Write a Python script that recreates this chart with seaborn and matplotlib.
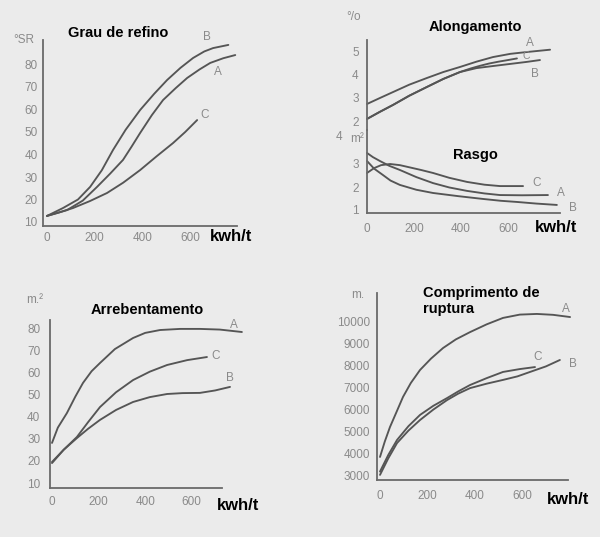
import matplotlib
matplotlib.use("Agg")
import matplotlib.pyplot as plt
import pandas as pd
import seaborn as sns

# ---------------- data ----------------
# Grau de refino (°SR) vs kwh/t
refino_A_x = [0, 84, 150, 210, 265, 319, 355, 391, 440, 487, 540, 588, 640, 685, 740, 790]
refino_A_y = [12.7, 15.3, 19.5, 25.6, 31.5, 37.6, 43.5, 49.6, 57.5, 64.2, 69.5, 74.0, 77.8, 80.7, 82.8, 84.2]
refino_B_x = [0, 67, 130, 181, 230, 277, 330, 391, 450, 504, 560, 613, 660, 697, 761]
refino_B_y = [12.7, 16.2, 20.0, 25.6, 33.0, 42.0, 51.0, 59.8, 67.0, 73.1, 78.5, 82.9, 85.8, 87.3, 88.7]
refino_C_x = [0, 50, 109, 180, 252, 320, 391, 460, 529, 580, 630]
refino_C_y = [12.7, 14.2, 16.2, 19.3, 22.9, 27.5, 33.1, 39.2, 45.1, 50.0, 55.3]

# Alongamento (%)
along_A_x = [0, 55, 111, 180, 255, 325, 396, 466, 536, 610, 681, 779]
along_A_y = [2.74, 3.0, 3.26, 3.58, 3.87, 4.13, 4.35, 4.58, 4.78, 4.92, 5.0, 5.1]
along_B_x = [0, 55, 111, 180, 255, 325, 396, 466, 536, 608, 680, 736]
along_B_y = [2.09, 2.4, 2.7, 3.1, 3.48, 3.83, 4.13, 4.3, 4.39, 4.48, 4.57, 4.65]
along_C_x = [0, 55, 111, 180, 255, 325, 396, 440, 481, 520, 560, 600, 638]
along_C_y = [2.09, 2.4, 2.7, 3.1, 3.48, 3.83, 4.13, 4.28, 4.4, 4.5, 4.58, 4.65, 4.72]

# Rasgo (m²)
rasgo_A_x = [0, 25, 55, 95, 140, 210, 281, 350, 426, 500, 566, 660, 770]
rasgo_A_y = [3.48, 3.3, 3.13, 2.92, 2.74, 2.43, 2.17, 1.98, 1.83, 1.72, 1.65, 1.64, 1.65]
rasgo_B_x = [0, 30, 68, 100, 140, 210, 281, 390, 494, 570, 638, 720, 808]
rasgo_B_y = [3.13, 2.8, 2.52, 2.28, 2.09, 1.88, 1.74, 1.6, 1.48, 1.4, 1.35, 1.28, 1.22]
rasgo_C_x = [0, 30, 60, 98, 140, 183, 230, 281, 350, 426, 500, 566, 664]
rasgo_C_y = [2.61, 2.82, 2.95, 3.0, 2.95, 2.85, 2.74, 2.61, 2.4, 2.22, 2.1, 2.04, 2.04]

# Arrebentamento (m²)
arreb_A_x = [0, 25, 64, 100, 133, 170, 206, 270, 348, 400, 464, 550, 635, 720, 815]
arreb_A_y = [28.1, 35.0, 41.6, 49.0, 55.2, 60.5, 64.2, 70.5, 75.5, 77.8, 79.1, 79.6, 79.6, 79.3, 78.2]
arreb_B_x = [0, 50, 107, 155, 206, 275, 348, 420, 494, 560, 635, 700, 764]
arreb_B_y = [19.0, 25.0, 30.3, 34.5, 38.5, 43.0, 46.6, 48.8, 50.2, 50.6, 50.7, 51.8, 53.4]
arreb_C_x = [0, 50, 107, 155, 206, 275, 348, 420, 494, 580, 665]
arreb_C_y = [19.5, 25.0, 30.8, 37.5, 44.3, 51.0, 56.5, 60.3, 63.3, 65.5, 66.9]

# Comprimento de ruptura (m)
rupt_A_x = [0, 20, 42, 70, 97, 130, 169, 215, 266, 320, 380, 450, 519, 590, 662, 730, 802]
rupt_A_y = [3860, 4550, 5210, 5900, 6570, 7200, 7790, 8300, 8780, 9170, 9500, 9850, 10140, 10290, 10320, 10280, 10180]
rupt_B_x = [0, 35, 72, 120, 169, 225, 283, 330, 380, 450, 519, 580, 633, 700, 759]
rupt_B_y = [3050, 3800, 4490, 5050, 5530, 6000, 6430, 6720, 6970, 7170, 7340, 7500, 7700, 7950, 8240]
rupt_C_x = [0, 35, 72, 120, 169, 225, 283, 330, 380, 450, 519, 590, 654]
rupt_C_y = [3200, 3950, 4630, 5250, 5760, 6170, 6520, 6820, 7110, 7420, 7700, 7830, 7920]

x_ticks = [0, 200, 400, 600]
refino_yticks = [10, 20, 30, 40, 50, 60, 70, 80]
along_yticks = [2, 3, 4, 5]
rasgo_yticks = [1, 2, 3]
arreb_yticks = [10, 20, 30, 40, 50, 60, 70, 80]
rupt_yticks = [3000, 4000, 5000, 6000, 7000, 8000, 9000, 10000]

# ---------------- style ----------------
sns.set_theme(style="white")
plt.rcParams["font.family"] = ["Liberation Sans", "DejaVu Sans"]

BG = "#ebebeb"
LINE = "#555555"
AXIS = "#6a6a6a"
TICK = "#8a8a8a"

W, H = 600, 537
fig = plt.figure(figsize=(W / 100, H / 100), dpi=100, facecolor=BG)


def make_ax(l, t, r, b, x0px, xs, yv, ypx, ys, xticks, yticks,
            xpad=5, ypad=4, bottom=True, xlabels=True):
    ax = fig.add_axes([l / W, 1 - b / H, (r - l) / W, (b - t) / H])
    ax.patch.set_alpha(0)
    ax.set_xlim((l - x0px) / xs, (r - x0px) / xs)
    ax.set_ylim(yv - (b - ypx) / ys, yv + (ypx - t) / ys)
    for s in ["top", "right"]:
        ax.spines[s].set_visible(False)
    ax.spines["left"].set_color(AXIS)
    ax.spines["left"].set_linewidth(1.3)
    if bottom:
        ax.spines["bottom"].set_color(AXIS)
        ax.spines["bottom"].set_linewidth(1.3)
    else:
        ax.spines["bottom"].set_visible(False)
    ax.set_xticks(xticks if xlabels else [])
    ax.set_yticks(yticks)
    ax.tick_params(axis="x", length=0, pad=xpad, labelsize=8.5, labelcolor=TICK)
    ax.tick_params(axis="y", length=0, pad=ypad, labelsize=8.5, labelcolor=TICK)
    ax.set_xlabel("")
    ax.set_ylabel("")
    ax.grid(False)
    return ax


def draw(ax, xs, ys):
    df = pd.DataFrame({"x": xs, "y": ys})
    sns.lineplot(data=df, x="x", y="y", ax=ax, color=LINE, linewidth=1.35,
                 estimator=None, sort=False)
    for ln in ax.lines:
        ln.set_clip_on(False)
        ln.set_solid_joinstyle("round")
    ax.set_xlabel("")
    ax.set_ylabel("")


def ftext(px, py, s, **kw):
    fig.text(px / W, 1 - py / H, s, **kw)


TITLE = dict(fontsize=10.5, fontweight="bold", color="black")
UNIT = dict(fontsize=12, fontweight="bold", color="black", ha="left", va="center")
LAB = dict(fontsize=8.5, color=TICK, ha="center", va="center")

# ---- Panel 1: Grau de refino ----
ax1 = make_ax(43, 40, 237, 226, 47, 0.2383, 10, 222, 2.25,
              x_ticks, refino_yticks, xpad=4, ypad=4)
draw(ax1, refino_A_x, refino_A_y)
draw(ax1, refino_B_x, refino_B_y)
draw(ax1, refino_C_x, refino_C_y)
ftext(118, 33, "Grau de refino", ha="center", va="center", **TITLE)
ftext(210, 237, "kwh/t", **UNIT)
ftext(24, 40, "°SR", **LAB)
ftext(207, 37, "B", **LAB)
ftext(218, 72, "A", **LAB)
ftext(205, 115, "C", **LAB)

# ---- Panel 2: Alongamento / Rasgo ----
ax2a = make_ax(367, 40, 560, 130, 367, 0.235, 2, 121, 23,
               x_ticks, along_yticks, bottom=False, xlabels=False, ypad=6)
draw(ax2a, along_A_x, along_A_y)
draw(ax2a, along_B_x, along_B_y)
draw(ax2a, along_C_x, along_C_y)
ax2b = make_ax(367, 130, 560, 213, 367, 0.235, 3, 164, 23,
               x_ticks, rasgo_yticks, xpad=7, ypad=6)
draw(ax2b, rasgo_A_x, rasgo_A_y)
draw(ax2b, rasgo_B_x, rasgo_B_y)
draw(ax2b, rasgo_C_x, rasgo_C_y)
ftext(475, 27, "Alongamento", ha="center", va="center", **TITLE)
ftext(475, 155, "Rasgo", ha="center", va="center", **TITLE)
ftext(535, 228, "kwh/t", **UNIT)
ftext(354, 17, "°/o", **LAB)
ftext(339, 137, "4", **LAB)
ftext(357, 139, "m²", **LAB)
ftext(530, 43, "A", **LAB)
ftext(535, 74, "B", **LAB)
ftext(526, 56, "C", fontsize=7.5, color=TICK, ha="center", va="center")
ftext(537, 183, "C", **LAB)
ftext(561, 193, "A", **LAB)
ftext(573, 208, "B", **LAB)

# ---- Panel 3: Arrebentamento ----
ax3 = make_ax(50, 320, 222, 488, 52, 0.233, 10, 483, 2.214,
              x_ticks, arreb_yticks, xpad=6, ypad=7)
draw(ax3, arreb_A_x, arreb_A_y)
draw(ax3, arreb_B_x, arreb_B_y)
draw(ax3, arreb_C_x, arreb_C_y)
ftext(147, 310, "Arrebentamento", ha="center", va="center", **TITLE)
ftext(217, 505, "kwh/t", **UNIT)
ftext(35, 300, "m.²", **LAB)
ftext(234, 325, "A", **LAB)
ftext(216, 356, "C", **LAB)
ftext(230, 378, "B", **LAB)

# ---- Panel 4: Comprimento de ruptura ----
ax4 = make_ax(377, 293, 568, 480, 380, 0.237, 3000, 476, 0.02214,
              x_ticks, rupt_yticks, xpad=7, ypad=5)
draw(ax4, rupt_A_x, rupt_A_y)
draw(ax4, rupt_B_x, rupt_B_y)
draw(ax4, rupt_C_x, rupt_C_y)
ftext(423, 301, "Comprimento de\nruptura", ha="left", va="center",
      linespacing=1.2, **TITLE)
ftext(547, 500, "kwh/t", **UNIT)
ftext(358, 295, "m.", **LAB)
ftext(566, 309, "A", **LAB)
ftext(538, 357, "C", **LAB)
ftext(573, 364, "B", **LAB)

fig.savefig("out.png", dpi=100, facecolor=BG)
